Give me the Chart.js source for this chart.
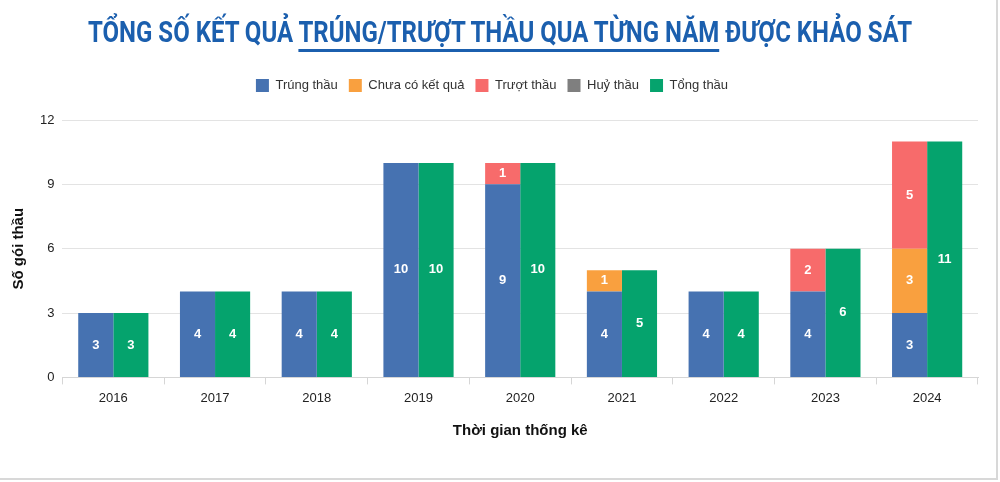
<!DOCTYPE html>
<html><head><meta charset="utf-8">
<script src="https://cdn.jsdelivr.net/npm/chart.js@4"></script>
<style>
html,body{margin:0;padding:0;background:#fff;}
#wrap{position:relative;width:996px;height:478px;border-right:2px solid #d8d8d8;border-bottom:2px solid #d8d8d8;overflow:hidden;}
#title{position:absolute;left:-200px;top:14px;width:1400px;text-align:center;white-space:nowrap;}
#title .t{display:inline-block;transform:scaleX(0.80);transform-origin:center;font-family:"Roboto",sans-serif;font-weight:bold;font-size:30px;color:#1b5fae;white-space:nowrap;}
#title span.u{border-bottom:3px solid #1b5fae;}
canvas{position:absolute;left:0;top:0;}
</style></head>
<body><div id="wrap">
<canvas id="c" width="996" height="478"></canvas>
<div id="title"><span class="t">TỔNG SỐ KẾT QUẢ <span class="u">TRÚNG/TRƯỢT THẦU QUA TỪNG NĂM</span> ĐƯỢC KHẢO SÁT</span></div>
</div>
<script>
const years = ['2016','2017','2018','2019','2020','2021','2022','2023','2024'];
const trungThau = [3,4,4,10,9,4,4,4,3];
const chuaCoKetQua = [0,0,0,0,0,1,0,0,3];
const truotThau = [0,0,0,0,1,0,0,2,5];
const huyThau = [0,0,0,0,0,0,0,0,0];
const tongThau = [3,4,4,10,10,5,4,6,11];
const yTicks = [0,3,6,9,12];

const valueLabels = {
  id:'valueLabels',
  afterDatasetsDraw(chart){
    const ctx = chart.ctx;
    ctx.save();
    ctx.font = 'bold 13px "Liberation Sans", Arial, sans-serif';
    ctx.fillStyle = '#fff';
    ctx.textAlign = 'center';
    ctx.textBaseline = 'middle';
    chart.data.datasets.forEach((ds,i)=>{
      const meta = chart.getDatasetMeta(i);
      if (meta.hidden) return;
      meta.data.forEach((bar,j)=>{
        const v = ds.data[j];
        if (!v) return;
        const p = bar.getProps(['x','y','base'],true);
        ctx.fillText(String(v), p.x, (p.y+p.base)/2);
      });
    });
    ctx.restore();
  }
};
const legendMargin = {
  id:'legendMargin',
  beforeInit(chart){
    const fit = chart.legend.fit;
    chart.legend.fit = function(){ fit.bind(chart.legend)(); this.height += 18; };
  }
};

new Chart(document.getElementById('c'),{
  type:'bar',
  data:{
    labels: years,
    datasets:[
      {label:'Trúng thầu', data:trungThau, backgroundColor:'#4672b1', stack:'a'},
      {label:'Chưa có kết quả', data:chuaCoKetQua, backgroundColor:'#f9a03f', stack:'a'},
      {label:'Trượt thầu', data:truotThau, backgroundColor:'#f76b6b', stack:'a'},
      {label:'Huỷ thầu', data:huyThau, backgroundColor:'#7f7f7f', stack:'a'},
      {label:'Tổng thầu', data:tongThau, backgroundColor:'#05a36d', stack:'b'}
    ]
  },
  options:{
    responsive:false,
    animation:false,
    layout:{padding:{top:68,left:6,right:18,bottom:34}},
    datasets:{bar:{barPercentage:1,categoryPercentage:0.69}},
    plugins:{
      legend:{position:'top',labels:{font:{family:'"Liberation Sans", Arial, sans-serif',size:13},color:'#333',boxWidth:13,boxHeight:13,padding:11}},
      tooltip:{enabled:false}
    },
    scales:{
      x:{
        stacked:true,
        grid:{display:true,drawOnChartArea:false,drawTicks:true,tickLength:7,color:'#d6d6d6',offset:true},
        border:{color:'#d6d6d6'},
        ticks:{font:{family:'"Liberation Sans", Arial, sans-serif',size:13},color:'#222',padding:6},
        title:{display:true,text:'Thời gian thống kê',font:{family:'"Liberation Sans", Arial, sans-serif',size:15,weight:'bold'},color:'#111',padding:{top:10}}
      },
      y:{
        stacked:true,
        min:0,max:12,
        afterBuildTicks(scale){ scale.ticks = yTicks.map(v=>({value:v})); },
        grid:{color:'#e3e3e3',drawTicks:false},
        border:{display:false},
        ticks:{font:{family:'"Liberation Sans", Arial, sans-serif',size:13},color:'#222',padding:8},
        title:{display:true,text:'Số gói thầu',font:{family:'"Liberation Sans", Arial, sans-serif',size:15,weight:'bold'},color:'#111',padding:{top:4,bottom:4}}
      }
    }
  },
  plugins:[valueLabels,legendMargin]
});
</script>
</body></html>
